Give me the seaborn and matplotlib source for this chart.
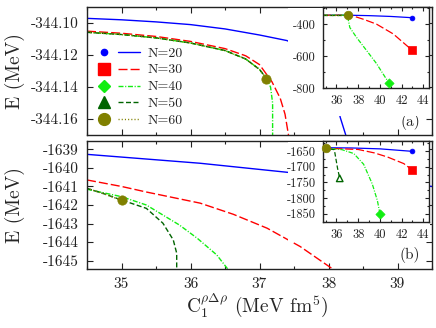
import matplotlib
matplotlib.use("Agg")
import matplotlib.pyplot as plt
import seaborn as sns
import pandas as pd
from matplotlib.lines import Line2D
from matplotlib.patches import Rectangle
from matplotlib.legend_handler import HandlerTuple
from matplotlib.ticker import AutoMinorLocator

# ---------------- data ----------------
LABELS = ["N=20", "N=30", "N=40", "N=50", "N=60"]

# panel (a), main
A20_X = [34.5, 35.0, 35.5, 36.0, 36.5, 37.0, 37.4, 37.8, 38.0, 38.1, 38.17, 38.25]
A20_E = [-344.0971, -344.0980, -344.0993, -344.1010, -344.1037, -344.1075, -344.1110,
         -344.1200, -344.1330, -344.1460, -344.1590, -344.1700]
A30_X = [34.5, 35.0, 35.5, 36.0, 36.5, 36.8, 37.0, 37.18, 37.30, 37.37, 37.42]
A30_E = [-344.1051, -344.1064, -344.1084, -344.1115, -344.1160, -344.1205, -344.1260,
         -344.1367, -344.1470, -344.1570, -344.1700]
A40_X = [34.5, 35.0, 35.5, 36.0, 36.5, 36.8, 37.0, 37.1, 37.16, 37.19, 37.19]
A40_E = [-344.1058, -344.1072, -344.1093, -344.1125, -344.1172, -344.1225, -344.1290,
         -344.1347, -344.1400, -344.1500, -344.1700]
A50_X = [34.5, 35.0, 35.5, 36.0, 36.5, 36.8, 37.0, 37.1]
A50_E = [-344.1058, -344.1072, -344.1093, -344.1125, -344.1172, -344.1225, -344.1290, -344.1347]
A60_X = [34.5, 35.0, 35.5, 36.0, 36.5, 36.8, 37.0, 37.1]
A60_E = [-344.1058, -344.1072, -344.1093, -344.1125, -344.1172, -344.1225, -344.1290, -344.1347]
A60_END = (37.1, -344.1347)

# panel (a), inset
IA20_X = [34.8, 37.0, 39.0, 41.0, 43.0]
IA20_E = [-344.1, -344.1, -347, -352, -360]
IA30_X = [34.8, 37.0, 37.53, 38.5, 39.69, 41.23, 42.46, 43.0]
IA30_E = [-344.1, -344.1, -349, -370, -400, -461, -533, -564]
IA40_X = [34.8, 37.0, 37.05, 37.23, 37.84, 38.77, 39.69, 40.46, 40.86]
IA40_E = [-344.1, -344.1, -360, -421, -482, -564, -646, -728, -769]
IA50_X = [34.8, 37.1]
IA50_E = [-344.1, -344.1]
IA60_X = [34.8, 37.1]
IA60_E = [-344.1, -344.1]

# panel (b), main
B20_X = [34.5, 36.14, 37.41, 39.5]
B20_E = [-1639.27, -1639.75, -1640.24, -1641.0]
B30_X = [34.5, 35.0, 35.36, 36.14, 36.62, 37.11, 37.59, 38.08]
B30_E = [-1640.65, -1641.0, -1641.3, -1641.9, -1642.5, -1643.25, -1644.24, -1645.5]
B40_X = [34.5, 35.0, 35.36, 35.84, 36.1, 36.38, 36.55]
B40_E = [-1641.15, -1641.55, -1642.0, -1643.08, -1643.8, -1644.69, -1645.5]
B50_X = [34.5, 34.75, 35.0, 35.36, 35.6, 35.75, 35.8, 35.8]
B50_E = [-1641.1, -1641.4, -1641.73, -1642.18, -1642.98, -1643.88, -1644.6, -1645.5]
B60_X = [34.5, 34.75, 35.0]
B60_E = [-1641.1, -1641.4, -1641.75]

# panel (b), inset
IB20_X = [34.8, 37.4, 40.0, 43.0]
IB20_E = [-1639.4, -1640.2, -1643, -1651]
IB30_X = [34.8, 38.0, 39.5, 40.7, 42.2, 43.0]
IB30_E = [-1640.7, -1645, -1656, -1669, -1690, -1711]
IB40_X = [34.8, 36.5, 37.6, 38.5, 39.3, 39.77, 40.0]
IB40_E = [-1641.2, -1645.5, -1658, -1692, -1755, -1808, -1849]
IB50_X = [34.8, 35.0, 35.8, 35.9, 36.1, 36.3]
IB50_E = [-1641.1, -1641.7, -1645.5, -1665, -1705, -1737]
IB60_X = [34.8, 35.0]
IB60_E = [-1641.1, -1641.75]

X_TICKS = [35, 36, 37, 38, 39]
A_YTICKS = [-344.10, -344.12, -344.14, -344.16]
B_YTICKS = [-1639, -1640, -1641, -1642, -1643, -1644, -1645]
IN_XTICKS = [36, 38, 40, 42, 44]
IA_YTICKS = [-400, -600, -800]
IB_YTICKS = [-1650, -1700, -1750, -1800, -1850]

# ---------------- style ----------------
sns.set_theme(style="ticks")
plt.rcParams.update({
    "font.family": "serif",
    "font.serif": ["cmr10"],
    "mathtext.fontset": "cm",
    "axes.unicode_minus": False,
    "axes.formatter.use_mathtext": True,
    "axes.edgecolor": "#222222",
    "axes.linewidth": 1.0,
})

COL = ["#0000ff", "#ff0000", "#11ee11", "#006400", "#808000"]
LS = ["-", (0, (6.5, 2.2)), (0, (3.6, 1.2, 0.8, 1.2)), (0, (3.6, 1.8)), (0, (0.8, 1.5))]
MK = ["o", "s", "D", "^", "o"]

fig = plt.figure(figsize=(4.36, 3.28), dpi=100)
W, H = 436.0, 328.0
axA = fig.add_axes([87 / W, 1 - 135 / H, 345 / W, 128 / H])
axB = fig.add_axes([87 / W, 1 - 269 / H, 345 / W, 128 / H])


def line(ax, xs, ys, i, lw=1.0):
    df = pd.DataFrame({"x": xs, "y": ys})
    sns.lineplot(data=df, x="x", y="y", ax=ax, color=COL[i], linestyle=LS[i],
                 linewidth=lw, estimator=None, sort=False, legend=False)


def mark(ax, x, y, i, s, filled=True):
    kw = dict(marker=MK[i], s=s, ax=ax, legend=False, clip_on=False, zorder=5)
    if filled:
        sns.scatterplot(x=[x], y=[y], color=COL[i], edgecolor=COL[i], linewidth=0.5, **kw)
    else:
        sns.scatterplot(x=[x], y=[y], facecolor="none", edgecolor=COL[i], linewidth=1.0, **kw)


def style_axes(ax, fs, pad, major=4, minor=2.2):
    ax.tick_params(which="both", direction="in", top=True, right=True, labelsize=fs,
                   pad=pad, colors="#222222")
    ax.tick_params(which="major", length=major, width=0.8)
    ax.tick_params(which="minor", length=minor, width=0.8)
    ax.set_xlabel("")
    ax.set_ylabel("")


# panel (a)
for i, (xs, ys) in enumerate([(A20_X, A20_E), (A30_X, A30_E), (A40_X, A40_E),
                              (A50_X, A50_E), (A60_X, A60_E)]):
    line(axA, xs, ys, i)
mark(axA, A60_END[0], A60_END[1], 4, 45)
axA.set_xlim(34.5, 39.5)
axA.set_ylim(-344.17, -344.09)
style_axes(axA, 11, 6)
axA.set_xticks(X_TICKS, [])
axA.xaxis.set_minor_locator(AutoMinorLocator(2))
axA.set_yticks(A_YTICKS, ["%.2f" % v for v in A_YTICKS])
axA.set_ylabel("E (MeV)", fontsize=14)
axA.yaxis.set_label_coords(-0.18, 0.5)

# panel (b)
for i, (xs, ys) in enumerate([(B20_X, B20_E), (B30_X, B30_E), (B40_X, B40_E),
                              (B50_X, B50_E), (B60_X, B60_E)]):
    line(axB, xs, ys, i)
mark(axB, B60_X[-1], B60_E[-1], 4, 45)
axB.set_xlim(34.5, 39.5)
axB.set_ylim(-1645.45, -1638.55)
style_axes(axB, 11, 6)
axB.set_xticks(X_TICKS, [str(v) for v in X_TICKS])
axB.xaxis.set_minor_locator(AutoMinorLocator(2))
axB.set_yticks(B_YTICKS, [str(v) for v in B_YTICKS])
axB.set_ylabel("E (MeV)", fontsize=14)
axB.yaxis.set_label_coords(-0.18, 0.5)
axB.set_xlabel(r"$\mathrm{C}_1^{\rho\Delta\rho}$ (MeV fm$^5$)", fontsize=14)
axB.xaxis.set_label_coords(0.493, -0.175)

# white boxes behind the insets
fig.add_artist(Rectangle((288 / W, 1 - 116 / H), (430 - 288) / W, (116 - 7.5) / H,
                         transform=fig.transFigure, facecolor="white", edgecolor="none", zorder=1))
fig.add_artist(Rectangle((288 / W, 1 - 242 / H), (430 - 288) / W, (242 - 141.5) / H,
                         transform=fig.transFigure, facecolor="white", edgecolor="none", zorder=1))

axA.text(0.936, 0.10, "(a)", transform=axA.transAxes, fontsize=11, ha="center", va="center", zorder=6)
axB.text(0.936, 0.11, "(b)", transform=axB.transAxes, fontsize=11, ha="center", va="center", zorder=6)

# inset (a)
inA = fig.add_axes([323 / W, 1 - 88.3 / H, 106.3 / W, 81.8 / H], zorder=3)
for i, (xs, ys) in enumerate([(IA20_X, IA20_E), (IA30_X, IA30_E), (IA40_X, IA40_E),
                              (IA50_X, IA50_E), (IA60_X, IA60_E)]):
    line(inA, xs, ys, i, lw=0.9)
mark(inA, IA20_X[-1], IA20_E[-1], 0, 12)
mark(inA, IA30_X[-1], IA30_E[-1], 1, 36)
mark(inA, IA40_X[-1], IA40_E[-1], 2, 22)
mark(inA, IA60_X[-1], IA60_E[-1], 4, 38)
inA.set_xlim(34.76, 44.55)
inA.set_ylim(-800, -290)
style_axes(inA, 9, 5, major=3, minor=1.6)
inA.set_xticks(IN_XTICKS, [str(v) for v in IN_XTICKS])
inA.xaxis.set_minor_locator(AutoMinorLocator(2))
inA.set_yticks(IA_YTICKS, [str(v) for v in IA_YTICKS])
inA.yaxis.set_minor_locator(AutoMinorLocator(2))

# inset (b)
inB = fig.add_axes([323 / W, 1 - 222.3 / H, 106.3 / W, 81.3 / H], zorder=3)
for i, (xs, ys) in enumerate([(IB20_X, IB20_E), (IB30_X, IB30_E), (IB40_X, IB40_E),
                              (IB50_X, IB50_E), (IB60_X, IB60_E)]):
    line(inB, xs, ys, i, lw=0.9)
mark(inB, IB20_X[-1], IB20_E[-1], 0, 12)
mark(inB, IB30_X[-1], IB30_E[-1], 1, 36)
mark(inB, IB40_X[-1], IB40_E[-1], 2, 22)
mark(inB, IB50_X[-1], IB50_E[-1], 3, 22, filled=False)
mark(inB, IB60_X[-1], IB60_E[-1], 4, 38)
inB.set_xlim(34.76, 44.55)
inB.set_ylim(-1877, -1618)
style_axes(inB, 9, 5, major=3, minor=1.6)
inB.set_xticks(IN_XTICKS, [str(v) for v in IN_XTICKS])
inB.xaxis.set_minor_locator(AutoMinorLocator(2))
inB.set_yticks(IB_YTICKS, [str(v) for v in IB_YTICKS])
inB.yaxis.set_minor_locator(AutoMinorLocator(2))

# legend (marker to the left of the line sample)
msz = [4.5, 8, 6.5, 8, 8.5]
handles = []
for i in range(5):
    m = Line2D([], [], linestyle="none", marker=MK[i], markersize=msz[i], color=COL[i])
    l = Line2D([], [], color=COL[i], linestyle=LS[i], linewidth=1.0)
    handles.append((m, l))
axA.legend(handles, LABELS, handler_map={tuple: HandlerTuple(ndivide=None, pad=0.2)},
           loc="center left", bbox_to_anchor=(93 / W, 1 - 87 / H), bbox_transform=fig.transFigure,
           frameon=False, fontsize=10, handlelength=3.4, handletextpad=0.5,
           labelspacing=0.3, borderpad=0, borderaxespad=0, numpoints=1)

fig.savefig("out.png", dpi=100)
